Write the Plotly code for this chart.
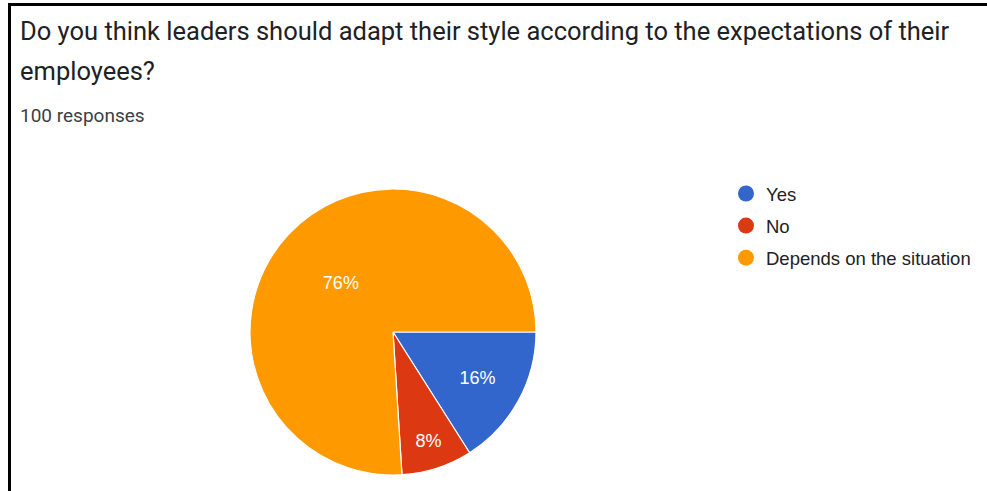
import plotly.graph_objects as go

# ---- data ----
categories = ["Yes", "No", "Depends on the situation"]
values = [16, 8, 76]
colors = ["#3366cc", "#dc3912", "#ff9900"]
title_lines = [
    "Do you think leaders should adapt their style according to the expectations of their",
    "employees?",
]
subtitle = "100 responses"

W, H = 987, 491

fig = go.Figure()

fig.add_trace(go.Pie(
    labels=categories,
    values=values,
    marker=dict(colors=colors, line=dict(color="white", width=1.2)),
    sort=False,
    direction="clockwise",
    rotation=90,
    textinfo="percent",
    texttemplate="%{percent:.0%}",
    textposition="inside",
    insidetextorientation="horizontal",
    textfont=dict(family="Arial, Liberation Sans", size=18, color="white"),
    showlegend=False,
    hoverinfo="label+percent",
    domain=dict(x=[(393 - 143) / W, (393 + 143) / W],
                y=[(H - 332 - 143) / H, (H - 332 + 143) / H]),
))

# legend entries (circle symbols) for the same categories
for i, (c, col) in enumerate(zip(categories, colors)):
    fig.add_trace(go.Scatter(
        x=[None], y=[None], mode="markers", name=c,
        legendgroup=f"g{i}",
        marker=dict(symbol="circle", size=19, color=col),
        showlegend=True,
    ))

annotations = []
for i, line in enumerate(title_lines):
    annotations.append(dict(
        text=line, xref="paper", yref="paper",
        x=18 / W, y=1 - (31 + 40 * i) / H, xanchor="left", yanchor="middle",
        showarrow=False,
        font=dict(family="Roboto", size=25.5, color="#202124"),
    ))
annotations.append(dict(
    text=subtitle, xref="paper", yref="paper",
    x=18 / W, y=1 - 115 / H, xanchor="left", yanchor="middle",
    showarrow=False,
    font=dict(family="Roboto", size=19, color="#3c4043"),
))

fig.update_layout(
    width=W, height=H,
    margin=dict(l=0, r=0, t=0, b=0),
    paper_bgcolor="white",
    plot_bgcolor="white",
    xaxis=dict(visible=False),
    yaxis=dict(visible=False),
    annotations=annotations,
    legend=dict(
        x=726 / W, y=1 - 175 / H, xanchor="left", yanchor="top",
        font=dict(family="Arial, Liberation Sans", size=18.5, color="#222222"),
        traceorder="grouped", tracegroupgap=5,
        itemsizing="trace", itemwidth=30,
        bgcolor="rgba(0,0,0,0)",
    ),
    shapes=[dict(
        type="rect", xref="paper", yref="paper",
        x0=9.5 / W, x1=1.2, y0=-0.2, y1=1 - 4.5 / H,
        line=dict(color="black", width=3), fillcolor="rgba(0,0,0,0)",
        layer="above",
    )],
)

fig.write_html("out.html")
